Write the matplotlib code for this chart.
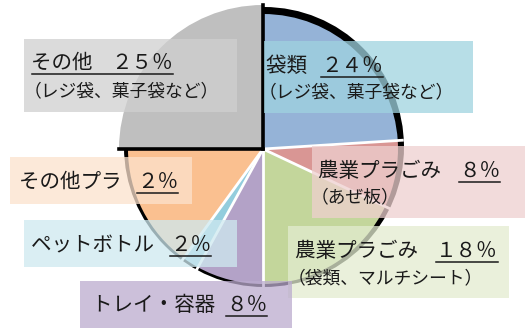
import matplotlib
matplotlib.use('Agg')
import matplotlib.pyplot as plt
from matplotlib.patches import Circle, Rectangle
import numpy as np

plt.rcParams['font.family'] = ['Noto Sans CJK JP', 'DejaVu Sans']

# ---- data ----
categories = ['袋類', '農業プラごみ（あぜ板）', '農業プラごみ（袋類、マルチシート）',
              'トレイ・容器', 'ペットボトル', 'その他プラ', 'その他']
values = [24, 8, 18, 8, 2, 15, 25]
colors = ['#95B3D7', '#D99694', '#C3D69B', '#B3A2C7', '#93CDDD', '#FAC090', '#BFBFBF']

label_main = ['袋類 ', '農業プラごみ ', '農業プラごみ ', 'トレイ・容器 ', 'ペットボトル ', 'その他プラ ', 'その他 ']
label_pct = ['２４％', '８％', '１８％', '８％', '２％', '２％', '２５％']
label_sub = ['（レジ袋、菓子袋など）', '（あぜ板）', '（袋類、マルチシート）', '', '', '', '（レジ袋、菓子袋など）']
box_colors = ['#9FD3E0', '#EED0CF', '#E3ECD0', '#BBABCE', '#CEE9F0', '#FCE2CD', '#D0D0D0']

# layout in pixel units (top-origin): box x0,y0,x1,y1, text x, line1 y, pct x, sub y, underline-all
layout = [
    (264, 41, 473, 113, 266, 66, 321, 92, False),
    (312, 146, 525, 218, 318, 171, 459, 197, False),
    (288, 226, 509, 298, 295, 251, 436, 278, False),
    (80, 281, 292, 328, 92, 305, 226, None, False),
    (24, 220, 237, 267, 31, 245, 170, None, False),
    (10, 157, 192, 204, 19, 182, 137, None, False),
    (24, 39, 237, 112, 31, 63, 111, 91, True),
]

W, H = 528, 331
fig = plt.figure(figsize=(W / 100, H / 100), dpi=100)
ax = fig.add_axes([0, 0, 1, 1])

def Y(y):
    return H - y

cx, cy = 263, Y(149)
r = 135

wedges, _ = ax.pie(values, colors=colors, startangle=90, counterclock=False,
                   radius=r, center=(cx, cy),
                   wedgeprops=dict(edgecolor='none', linewidth=0))
for w in wedges:
    w.set_zorder(2)

# black rim behind the pie
ax.add_patch(Circle((264, Y(147)), 140, facecolor='black', edgecolor='none', zorder=1))

# enlarge the last (gray) wedge and draw on top
gray = wedges[-1]
gray.set_radius(144)
gray.set_zorder(4)

gray_angles = {round(gray.theta1, 6) % 360, round(gray.theta2, 6) % 360}
bounds = set()
for w in wedges[:-1]:
    bounds.add(round(w.theta1, 6) % 360)
    bounds.add(round(w.theta2, 6) % 360)
for a in bounds:
    if a in gray_angles:
        continue
    t = np.deg2rad(a)
    ax.plot([cx, cx + (r + 6) * np.cos(t)], [cy, cy + (r + 6) * np.sin(t)],
            color='white', lw=2.0, zorder=3, solid_capstyle='butt')
for a in gray_angles:
    t = np.deg2rad(a)
    ax.plot([cx, cx + 144 * np.cos(t)], [cy, cy + 144 * np.sin(t)],
            color='black', lw=2.6, zorder=5, solid_capstyle='projecting')

ax.set_xlim(0, W)
ax.set_ylim(0, H)
ax.set_aspect('auto')
ax.axis('off')

fig.canvas.draw()
renderer = fig.canvas.get_renderer()

txt_color = '#1a1a1a'
fs1, fs2 = 14.8, 12.8
for i in range(len(categories)):
    x0, y0, x1, y1, tx, ty, px, sy, ul_all = layout[i]
    ax.add_patch(Rectangle((x0, Y(y1)), x1 - x0, y1 - y0, facecolor=box_colors[i],
                           edgecolor='none', alpha=0.75, zorder=6))
    tm = ax.text(tx, Y(ty), label_main[i], fontsize=fs1, color=txt_color,
                 ha='left', va='center', zorder=7)
    tp = ax.text(px, Y(ty), label_pct[i], fontsize=fs1, color=txt_color,
                 ha='left', va='center', zorder=7)
    if label_sub[i]:
        ax.text(tx - 7, Y(sy), label_sub[i], fontsize=fs2, color=txt_color,
                ha='left', va='center', zorder=7)
    bp = tp.get_window_extent(renderer)
    bm = tm.get_window_extent(renderer)
    ux0 = bm.x0 + 1 if ul_all else bp.x0
    uy = Y(ty + 11)
    ax.plot([ux0, bp.x1], [uy, uy], color=txt_color, lw=1.1, zorder=7)

fig.savefig('out.png', dpi=100)
